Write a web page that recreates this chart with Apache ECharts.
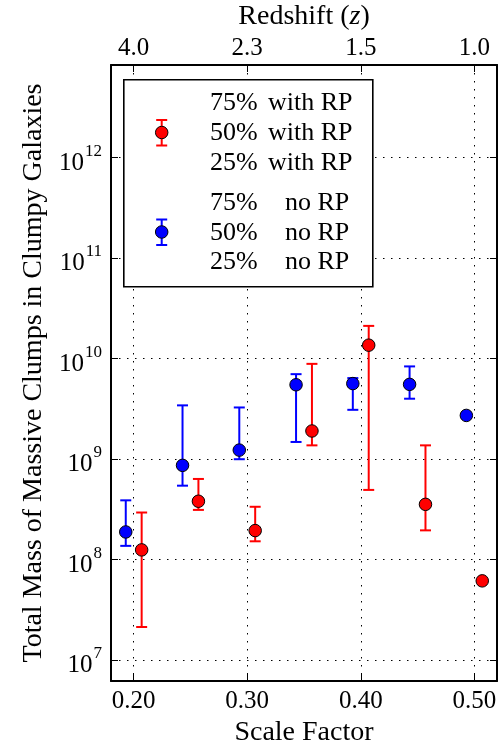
<!DOCTYPE html>
<html>
<head>
<meta charset="utf-8">
<script src="https://cdn.jsdelivr.net/npm/echarts@6/dist/echarts.min.js"></script>
<style>html,body{margin:0;padding:0;background:#fff;}#c{width:498px;height:743px;}</style>
</head>
<body>
<div id="c"></div>
<script>
// ---- data ----
const blueScale  = [0.193, 0.243, 0.293, 0.343, 0.393, 0.443, 0.493];
const blueMedian = [1.87e8, 8.6e8, 1.22e9, 5.45e9, 5.6e9, 5.5e9, 2.7e9];
const blueP75    = [3.86e8, 3.4e9, 3.24e9, 6.95e9, 6.35e9, 8.3e9, 2.7e9];
const blueP25    = [1.36e8, 5.4e8, 9.9e8, 1.47e9, 3.07e9, 3.96e9, 2.7e9];

const redScale   = [0.207, 0.257, 0.307, 0.357, 0.407, 0.457, 0.507];
const redMedian  = [1.24e8, 3.78e8, 1.93e8, 1.89e9, 1.35e10, 3.52e8, 6.1e7];
const redP75     = [2.92e8, 6.3e8, 3.33e8, 8.8e9, 2.1e10, 1.36e9, 6.1e7];
const redP25     = [2.12e7, 3.1e8, 1.51e8, 1.36e9, 4.9e8, 1.94e8, 6.1e7];

const scaleTicks     = [0.20, 0.30, 0.40, 0.50];
const redshiftLabels = ['4.0', '2.3', '1.5', '1.0'];
const massTicks      = [1e7, 1e8, 1e9, 1e10, 1e11, 1e12];

const legendRows = [
  ['75%', 'with RP'], ['50%', 'with RP'], ['25%', 'with RP'],
  ['75%', 'no RP'], ['50%', 'no RP'], ['25%', 'no RP']
];

// ---- style ----
const FF = '"Liberation Serif", "DejaVu Serif", serif';
const RED = '#ff0000', BLUE = '#0000ff';
const gridDots = { color: '#000', width: 1, type: [1.5, 6.5] };
const yMin = Math.pow(10, 6.789), yMax = Math.pow(10, 12.918);

function errSeries(name, xs, lo, hi, color) {
  return {
    name: name, type: 'custom', xAxisIndex: 0, yAxisIndex: 0,
    data: xs.map((x, i) => [x, lo[i], hi[i]]),
    encode: { x: 0, y: [1, 2] },
    clip: false,
    renderItem: function (params, api) {
      const x = api.value(0);
      const pLo = api.coord([x, api.value(1)]);
      const pHi = api.coord([x, api.value(2)]);
      const hw = 5.5;
      const st = { stroke: color, lineWidth: 2 };
      return { type: 'group', children: [
        { type: 'line', shape: { x1: pLo[0], y1: pLo[1], x2: pHi[0], y2: pHi[1] }, style: st },
        { type: 'line', shape: { x1: pLo[0] - hw, y1: pLo[1], x2: pLo[0] + hw, y2: pLo[1] }, style: st },
        { type: 'line', shape: { x1: pHi[0] - hw, y1: pHi[1], x2: pHi[0] + hw, y2: pHi[1] }, style: st }
      ]};
    }
  };
}
function dotSeries(name, xs, ys, color) {
  return {
    name: name, type: 'scatter', xAxisIndex: 0, yAxisIndex: 0,
    data: xs.map((x, i) => [x, ys[i]]),
    symbol: 'circle', symbolSize: 12.5,
    itemStyle: { color: color, borderColor: '#000', borderWidth: 1, opacity: 1 },
    clip: false
  };
}

// legend (decoration) built with graphic elements
const legendGraphics = [];
legendGraphics.push({ type: 'rect', left: 123, top: 79, shape: { width: 249, height: 207 },
  style: { fill: '#fff', stroke: '#000', lineWidth: 1.6 }, z: 100 });
const rowY = [103, 133, 163, 203, 233, 262.5];
legendRows.forEach((r, i) => {
  legendGraphics.push({ type: 'text', x: 210, y: rowY[i], z: 101,
    style: { text: r[0], font: '26px ' + FF, fill: '#000', verticalAlign: 'middle', align: 'left' } });
  legendGraphics.push({ type: 'text', x: r[1] === 'with RP' ? 268 : 285, y: rowY[i], z: 101,
    style: { text: r[1], font: '26px ' + FF, fill: '#000', verticalAlign: 'middle', align: 'left' } });
});
function legendMark(cy, color) {
  const st = { stroke: color, lineWidth: 2 };
  legendGraphics.push({ type: 'line', z: 101, shape: { x1: 161.7, y1: cy - 12.5, x2: 161.7, y2: cy + 13 }, style: st });
  legendGraphics.push({ type: 'line', z: 101, shape: { x1: 156.2, y1: cy - 12.5, x2: 167.2, y2: cy - 12.5 }, style: st });
  legendGraphics.push({ type: 'line', z: 101, shape: { x1: 156.2, y1: cy + 13, x2: 167.2, y2: cy + 13 }, style: st });
  legendGraphics.push({ type: 'circle', z: 102, shape: { cx: 161.7, cy: cy, r: 6.25 },
    style: { fill: color, stroke: '#000', lineWidth: 1 } });
}
legendMark(132.5, RED);
legendMark(232, BLUE);

const chart = echarts.init(document.getElementById('c'), null, { renderer: 'canvas' });
chart.setOption({
  animation: false,
  backgroundColor: '#fff',
  grid: { left: 111, top: 65, width: 386, height: 616, containLabel: false, outerBoundsMode: 'none' },
  xAxis: [
    {
      type: 'value', position: 'bottom', min: 0.18, max: 0.52,
      name: 'Scale Factor', nameLocation: 'middle', nameGap: 35,
      nameTextStyle: { fontFamily: FF, fontSize: 28, color: '#000' },
      axisLine: { show: true, onZero: false, lineStyle: { color: '#000', width: 2 } },
      axisTick: { show: true, inside: true, length: 7, customValues: scaleTicks, lineStyle: { color: '#000', width: 1 } },
      axisLabel: { customValues: scaleTicks, formatter: v => v.toFixed(2), fontFamily: FF, fontSize: 25, color: '#000', margin: 8 },
      splitLine: { show: true, lineStyle: gridDots }
    },
    {
      type: 'value', position: 'top', min: 0.18, max: 0.52,
      name: '{n|Redshift (}{i|z}{n|)}', nameLocation: 'middle', nameGap: 28,
      nameTextStyle: { rich: {
        n: { fontFamily: FF, fontSize: 28, color: '#000' },
        i: { fontFamily: FF, fontSize: 28, fontStyle: 'italic', color: '#000' } } },
      axisLine: { show: true, onZero: false, lineStyle: { color: '#000', width: 2 } },
      axisTick: { show: true, inside: true, length: 7, customValues: scaleTicks, lineStyle: { color: '#000', width: 1 } },
      axisLabel: { customValues: scaleTicks,
        formatter: v => { const k = scaleTicks.findIndex(t => Math.abs(t - v) < 1e-6); return k >= 0 ? redshiftLabels[k] : ''; },
        fontFamily: FF, fontSize: 25, color: '#000', margin: 4 },
      splitLine: { show: false }
    }
  ],
  yAxis: [
    {
      type: 'log', logBase: 10, position: 'left', min: yMin, max: yMax,
      name: 'Total Mass of Massive Clumps in Clumpy Galaxies', nameLocation: 'middle', nameGap: 54, nameRotate: 90,
      nameTextStyle: { fontFamily: FF, fontSize: 28, color: '#000' },
      axisLine: { show: true, onZero: false, lineStyle: { color: '#000', width: 2 } },
      axisTick: { show: true, inside: true, length: 7, customValues: massTicks, lineStyle: { color: '#000', width: 1 } },
      minorTick: { show: false },
      axisLabel: { customValues: massTicks,
        formatter: v => '{b|10}{s|' + Math.round(Math.log10(v)) + '}',
        margin: 9,
        rich: {
          b: { fontFamily: FF, fontSize: 25, color: '#000', padding: [12, 0, 0, 0] },
          s: { fontFamily: FF, fontSize: 17, color: '#000', padding: [0, 0, 12, 1] }
        } },
      splitLine: { show: true, lineStyle: gridDots }
    },
    {
      type: 'log', logBase: 10, position: 'right', min: yMin, max: yMax,
      axisLine: { show: true, onZero: false, lineStyle: { color: '#000', width: 2 } },
      axisTick: { show: true, inside: true, length: 7, customValues: massTicks, lineStyle: { color: '#000', width: 1 } },
      minorTick: { show: false },
      axisLabel: { show: false },
      splitLine: { show: false }
    }
  ],
  graphic: legendGraphics,
  series: [
    errSeries('no RP err', blueScale, blueP25, blueP75, BLUE),
    dotSeries('no RP', blueScale, blueMedian, BLUE),
    errSeries('with RP err', redScale, redP25, redP75, RED),
    dotSeries('with RP', redScale, redMedian, RED)
  ]
});
</script>
</body>
</html>
